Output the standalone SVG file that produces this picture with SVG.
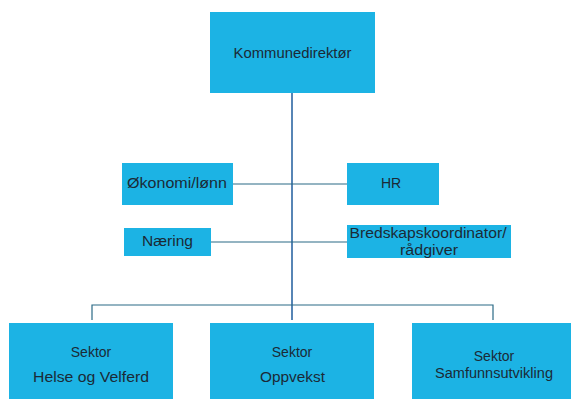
<svg xmlns="http://www.w3.org/2000/svg" width="571" height="399" viewBox="0 0 571 399">
<style>
.box{fill:#1cb3e4;}
.t{font-family:"Liberation Sans","DejaVu Sans",sans-serif;font-size:14px;fill:#1b2a36;text-anchor:middle;}
.v{stroke:#1f5c9c;stroke-width:1.5;fill:none;}
.h{stroke:#2b6a86;stroke-width:1.2;fill:none;}
</style>
<rect width="571" height="399" fill="#ffffff"/>
<g id="connectors">
<line class="v" x1="292" y1="93" x2="292" y2="320"/>
<line class="h" x1="233" y1="184" x2="347" y2="184"/>
<line class="h" x1="211" y1="242" x2="347" y2="242"/>
<polyline class="h" points="92,320 92,305 493,305 493,320"/>
</g>
<g id="kommunedirektor">
<rect class="box" x="210" y="12" width="165" height="81"/>
<text class="t" x="292.5" y="58" textLength="118" lengthAdjust="spacingAndGlyphs">Kommunedirektør</text>
</g>
<g id="okonomi">
<rect class="box" x="122" y="163" width="111" height="42"/>
<text class="t" x="177" y="188" textLength="100" lengthAdjust="spacingAndGlyphs">Økonomi/lønn</text>
</g>
<g id="hr">
<rect class="box" x="347" y="163" width="92" height="42"/>
<text class="t" x="391" y="188">HR</text>
</g>
<g id="naering">
<rect class="box" x="124" y="228" width="87" height="28"/>
<text class="t" x="167.5" y="246" textLength="51" lengthAdjust="spacingAndGlyphs">Næring</text>
</g>
<g id="beredskap">
<rect class="box" x="347" y="225" width="164" height="33"/>
<text class="t" x="428" y="238" textLength="157" lengthAdjust="spacingAndGlyphs">Bredskapskoordinator/</text>
<text class="t" x="429" y="255" textLength="58" lengthAdjust="spacingAndGlyphs">rådgiver</text>
</g>
<g id="helse">
<rect class="box" x="9" y="323" width="164" height="80"/>
<text class="t" x="91" y="357">Sektor</text>
<text class="t" x="91" y="382" textLength="116" lengthAdjust="spacingAndGlyphs">Helse og Velferd</text>
</g>
<g id="oppvekst">
<rect class="box" x="210" y="323" width="164" height="80"/>
<text class="t" x="292" y="357">Sektor</text>
<text class="t" x="292.5" y="382" textLength="65" lengthAdjust="spacingAndGlyphs">Oppvekst</text>
</g>
<g id="samfunn">
<rect class="box" x="412" y="323" width="164" height="80"/>
<text class="t" x="494" y="361">Sektor</text>
<text class="t" x="494" y="378" textLength="118" lengthAdjust="spacingAndGlyphs">Samfunnsutvikling</text>
</g>
</svg>
